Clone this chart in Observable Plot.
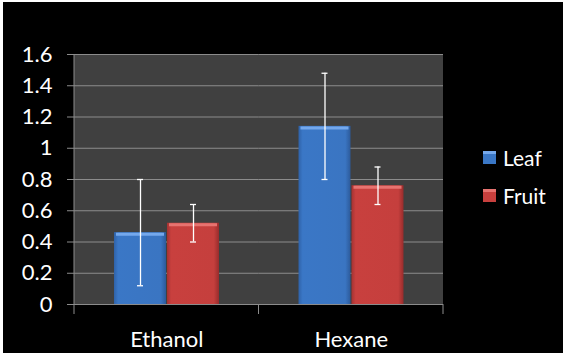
<!DOCTYPE html>
<html><head><meta charset="utf-8">
<script src="https://cdn.jsdelivr.net/npm/d3@7"></script>
<script src="https://cdn.jsdelivr.net/npm/@observablehq/plot@0.6"></script>
<style>
body{margin:0;background:#fff;}
#wrap{position:relative;width:567px;height:358px;background:#000;overflow:hidden;font-family:Lato,"Open Sans",sans-serif;}
#wrap svg{position:absolute;left:0;top:0;}
#border{position:absolute;left:0;top:0;right:0;bottom:0;border-style:solid;border-color:#fff;border-width:2px 4px 5px 3px;pointer-events:none;}
.lg{position:absolute;left:483px;height:14px;display:flex;align-items:center;color:#fff;font-size:21px;white-space:nowrap;}
.sw{width:13px;height:13px;margin-right:7px;flex:none;}
</style></head>
<body>
<div id="wrap"></div>
<script>
const categories = ["Ethanol", "Hexane"];
const seriesNames = ["Leaf", "Fruit"];
const leafValues = [0.46, 1.14];
const fruitValues = [0.52, 0.76];
const leafErrors = [0.34, 0.34];
const fruitErrors = [0.12, 0.12];
const yTicks = [0, 0.2, 0.4, 0.6, 0.8, 1, 1.2, 1.4, 1.6];

const rows = [];
categories.forEach((c, i) => {
  rows.push({category: c, series: "Leaf", value: leafValues[i], err: leafErrors[i]});
  rows.push({category: c, series: "Fruit", value: fruitValues[i], err: fruitErrors[i]});
});
const leafRows = rows.filter(d => d.series === "Leaf");
const fruitRows = rows.filter(d => d.series === "Fruit");

const gridColor = "#8c8c8c";

const plot = Plot.plot({
  width: 567, height: 358,
  marginLeft: 74, marginRight: 124, marginTop: 54, marginBottom: 54,
  style: {background: "transparent", color: "#fff", fontFamily: "Lato, 'Open Sans', sans-serif", fontSize: "20px"},
  fx: {domain: categories, padding: 0, label: null, round: false},
  x: {domain: seriesNames, paddingInner: 0.02, paddingOuter: 0.735, axis: null},
  y: {domain: [0, 1.6], label: null},
  marks: [
    Plot.gridY(yTicks, {stroke: gridColor, strokeOpacity: 1}),
    Plot.ruleY([0], {stroke: gridColor}),
    Plot.axisY(yTicks, {tickSize: 7, tickPadding: 15, tickFormat: d => String(d), fontSize: 22, stroke: gridColor, fill: "#fff"}),
    Plot.axisFx({anchor: "bottom", tickSize: 0, tickPadding: 27, fontSize: 22, fill: "#fff", label: null}),
    Plot.barY(leafRows, {fx: "category", x: "series", y: "value", fill: "url(#gLeaf)"}),
    Plot.barY(fruitRows, {fx: "category", x: "series", y: "value", fill: "url(#gFruit)"}),
    Plot.tickY(leafRows, {fx: "category", x: "series", y: "value", stroke: "#74a8ec", strokeWidth: 3, dy: 1.5, insetLeft: 2, insetRight: 2}),
    Plot.tickY(fruitRows, {fx: "category", x: "series", y: "value", stroke: "#e77370", strokeWidth: 3, dy: 1.5, insetLeft: 2, insetRight: 2}),
    Plot.ruleX(rows, {fx: "category", x: "series", y1: d => d.value - d.err, y2: d => d.value + d.err, stroke: "#fff", strokeWidth: 1.3}),
    Plot.tickY(rows, {fx: "category", x: "series", y: d => d.value + d.err, stroke: "#fff", strokeWidth: 1.3, insetLeft: 23, insetRight: 23}),
    Plot.tickY(rows, {fx: "category", x: "series", y: d => d.value - d.err, stroke: "#fff", strokeWidth: 1.3, insetLeft: 23, insetRight: 23})
  ]
});

const svg = d3.select(plot);
const defs = svg.insert("defs", ":first-child");
function grad(id, stops) {
  const g = defs.append("linearGradient").attr("id", id).attr("x1", 0).attr("x2", 1).attr("y1", 0).attr("y2", 0);
  stops.forEach(([o, c]) => g.append("stop").attr("offset", o).attr("stop-color", c));
}
grad("gLeaf", [[0, "#2f62a8"], [0.08, "#3a77c6"], [0.9, "#3a75c2"], [1, "#2c5a9a"]]);
grad("gFruit", [[0, "#a43232"], [0.08, "#c8403e"], [0.9, "#c53f3d"], [1, "#972c2c"]]);

const fxs = plot.scale("fx");
const ys = plot.scale("y");
const y0 = ys.apply(0);
const yTop = ys.apply(yTicks[yTicks.length - 1]);
const xLeft = fxs.apply(categories[0]);
const xRight = fxs.apply(categories[categories.length - 1]) + fxs.bandwidth;

// single plot-area background, placed behind everything
svg.insert("rect", "defs + *")
  .attr("x", xLeft).attr("y", yTop).attr("width", xRight - xLeft).attr("height", y0 - yTop)
  .attr("fill", "#404040");

// value-axis line and boundary ticks on the category axis
const bounds = categories.map(c => fxs.apply(c));
bounds.push(xRight);
const ag = svg.append("g").attr("stroke", gridColor);
ag.append("line").attr("x1", xLeft).attr("x2", xLeft).attr("y1", yTop).attr("y2", y0);
ag.selectAll("line.b").data(bounds).join("line").attr("class", "b")
  .attr("x1", d => d).attr("x2", d => d).attr("y1", y0).attr("y2", y0 + 10);

const wrap = document.getElementById("wrap");
wrap.appendChild(plot);

const legendItems = [
  {name: "Leaf", top: 150, bg: "linear-gradient(#74a8ec 0 3px, #3a77c6 3px)"},
  {name: "Fruit", top: 188, bg: "linear-gradient(#e77370 0 3px, #c8403e 3px)"}
];
legendItems.forEach(it => {
  const d = document.createElement("div");
  d.className = "lg";
  d.style.top = it.top + "px";
  const s = document.createElement("div");
  s.className = "sw";
  s.style.background = it.bg;
  d.appendChild(s);
  d.appendChild(document.createTextNode(it.name));
  wrap.appendChild(d);
});
const b = document.createElement("div");
b.id = "border";
wrap.appendChild(b);
</script>
</body></html>
